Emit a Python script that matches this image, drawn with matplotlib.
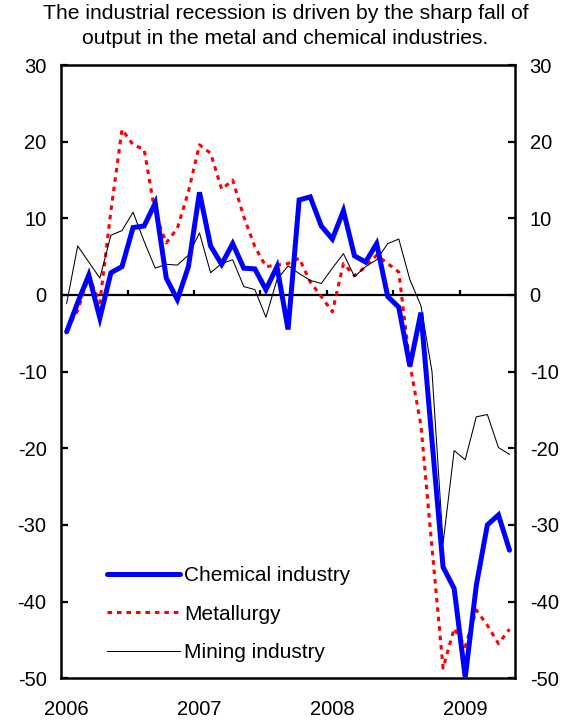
import numpy as np
import matplotlib
matplotlib.use('Agg')
import matplotlib.pyplot as plt

plt.rcParams['font.family'] = ['Liberation Sans', 'DejaVu Sans']
plt.rcParams['axes.unicode_minus'] = False  # 用普通连字符显示负号

# 月度数据 2006-01 ~ 2009-05
years = ['2006', '2007', '2008', '2009']
chemical = [-4.8, -1.0, 2.6, -3.0, 2.9, 3.7, 8.8, 9.0, 12.0, 2.2, -0.6, 3.7,
            13.4, 6.4, 4.0, 6.7, 3.5, 3.4, 0.7, 3.7, -4.5, 12.4, 12.8, 9.0,
            7.3, 11.0, 5.1, 4.3, 6.7, -0.2, -1.6, -9.3, -2.3, -19.0, -35.5, -38.3,
            -49.9, -37.9, -30.0, -28.7, -33.3]
metallurgy = [-4.6, -2.0, 2.4, -1.0, 11.0, 21.6, 19.6, 19.0, 10.6, 6.8, 8.7, 13.5,
              19.6, 18.5, 13.8, 15.0, 10.2, 6.3, 3.7, 3.9, 4.1, 4.8, 1.7, -0.2,
              -2.2, 4.1, 2.5, 3.7, 5.2, 4.1, 3.0, -9.0, -17.0, -33.0, -48.7, -43.5,
              -45.9, -41.1, -43.1, -45.5, -43.6]
mining = [-1.1, 6.4, 4.3, 2.2, 7.8, 8.4, 10.8, 7.0, 3.5, 4.0, 3.9, 5.2,
          8.1, 2.9, 4.1, 4.6, 1.1, 0.7, -2.9, 2.0, 3.8, 2.8, 1.9, 1.5,
          3.5, 5.4, 2.4, 3.7, 4.6, 6.7, 7.3, 2.0, -1.4, -10.0, -32.4, -20.3,
          -21.5, -15.9, -15.6, -19.9, -20.8]
labels = ['Chemical industry', 'Metallurgy', 'Mining industry']

x = np.arange(len(chemical))

fig = plt.figure(figsize=(5.71, 7.23), dpi=100)
ax = fig.add_axes([0.107, 0.062, 0.795, 0.848])

# 零线和每半年的小刻度
ax.axhline(0, color='black', lw=1.6, zorder=1)
ax.vlines(np.arange(5.5, len(x) - 1, 6), 0, 0.7, color='black', lw=1.6, zorder=1)

ax.plot(x, chemical, color='#0000ff', lw=3.6, solid_capstyle='round', solid_joinstyle='miter', label=labels[0], zorder=3)
ax.plot(x, metallurgy, color='#ff0000', lw=2.2, linestyle=(0, (1.5, 1.6)), label=labels[1], zorder=2)
ax.plot(x, mining, color='black', lw=0.75, label=labels[2], zorder=2)

ax.set_xlim(-0.5, len(x) - 0.5)
ax.set_ylim(-50, 30)
ax.set_yticks(range(-50, 31, 10))
ax.set_xticks([0, 12, 24, 36])
ax.set_xticklabels(years)

ax.tick_params(axis='x', length=0, pad=16, labelsize=14.5)
ax.tick_params(axis='y', direction='in', length=5, width=1.6, left=True, right=True,
               labelleft=True, labelright=True, labelsize=14.5, pad=10.5)
for s in ax.spines.values():
    s.set_linewidth(1.8)

ax.legend(loc='lower left', bbox_to_anchor=(0.06, -0.005), frameon=False, fontsize=15,
          handlelength=3.5, handletextpad=0.2, labelspacing=0.95)

fig.text(0.5, 0.994, 'The industrial recession is driven by the sharp fall of\noutput in the metal and chemical industries.',
         ha='center', va='top', fontsize=15.2, linespacing=1.35)

fig.savefig('out.png', dpi=100)
